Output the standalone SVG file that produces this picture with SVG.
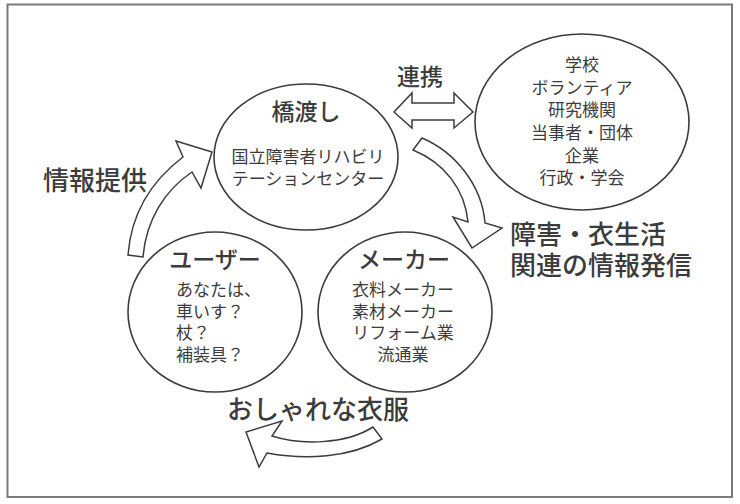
<svg xmlns="http://www.w3.org/2000/svg" width="740" height="504" viewBox="0 0 740 504">
<style>
text{font-family:"Liberation Sans","Noto Sans CJK JP",sans-serif;fill:#3c3c3c;dominant-baseline:central;text-anchor:middle}
.s{font-size:17px}
.h{font-size:23px;font-weight:500}
.b{font-size:26px;font-weight:500}
.node ellipse{fill:#fff;stroke:#3c3c3c;stroke-width:1.6}
.arr{fill:#fff;stroke:#3c3c3c;stroke-width:1.5;stroke-linejoin:miter}
</style>
<rect x="7.5" y="4.5" width="724.5" height="492.5" fill="#fff" stroke="#7a7a7a" stroke-width="2"/>
<g id="connectors">
<path class="arr" d="M128,255 C131,215 150,182 183,157 L176,141 L212,152 L201,188 L192,172 C165,190 146,220 143,257 Z"/>
<path class="arr" d="M394,112 L412,93 L412,103 L454,103 L454,93 L473,112 L454,128 L454,120 L412,120 L412,128 Z"/>
<path class="arr" d="M422,138 C455,152 482,185 485,223 L502,228 L472,248 L453,217 L468,222 C465,190 445,163 413,150 Z"/>
<path class="arr" d="M373,427 C345,445 300,445 272,436 L282,421 L246,432 L259,467 L267,453 C305,460 350,458 382,439 Z"/>
</g>
<g id="bridge" class="node">
<ellipse cx="306" cy="157" rx="92" ry="73"/>
<text class="h" x="306" y="112">橋渡し</text>
<text class="s" x="308" y="157">国立障害者リハビリ</text>
<text class="s" x="308" y="179">テーションセンター</text>
</g>
<g id="partners" class="node">
<ellipse cx="582" cy="122" rx="107" ry="88"/>
<text class="s" x="582" y="65">学校</text>
<text class="s" x="582" y="88">ボランティア</text>
<text class="s" x="582" y="110">研究機関</text>
<text class="s" x="582" y="133">当事者・団体</text>
<text class="s" x="582" y="156">企業</text>
<text class="s" x="582" y="178">行政・学会</text>
</g>
<g id="user" class="node">
<ellipse cx="215" cy="312" rx="87" ry="80"/>
<text class="h" x="215" y="260">ユーザー</text>
<text class="s" x="176" y="290" style="text-anchor:start">あなたは、</text>
<text class="s" x="176" y="312" style="text-anchor:start">車いす？</text>
<text class="s" x="176" y="333" style="text-anchor:start">杖？</text>
<text class="s" x="176" y="355" style="text-anchor:start">補装具？</text>
</g>
<g id="maker" class="node">
<ellipse cx="405" cy="312" rx="87" ry="80"/>
<text class="h" x="404" y="260">メーカー</text>
<text class="s" x="403" y="290">衣料メーカー</text>
<text class="s" x="403" y="312">素材メーカー</text>
<text class="s" x="403" y="333">リフォーム業</text>
<text class="s" x="403" y="355">流通業</text>
</g>
<text class="h" x="420" y="77">連携</text>
<text class="b" x="95" y="181">情報提供</text>
<text class="b" x="588" y="235">障害・衣生活</text>
<text class="b" x="601" y="266">関連の情報発信</text>
<text class="b" x="318" y="410">おしゃれな衣服</text>
</svg>
